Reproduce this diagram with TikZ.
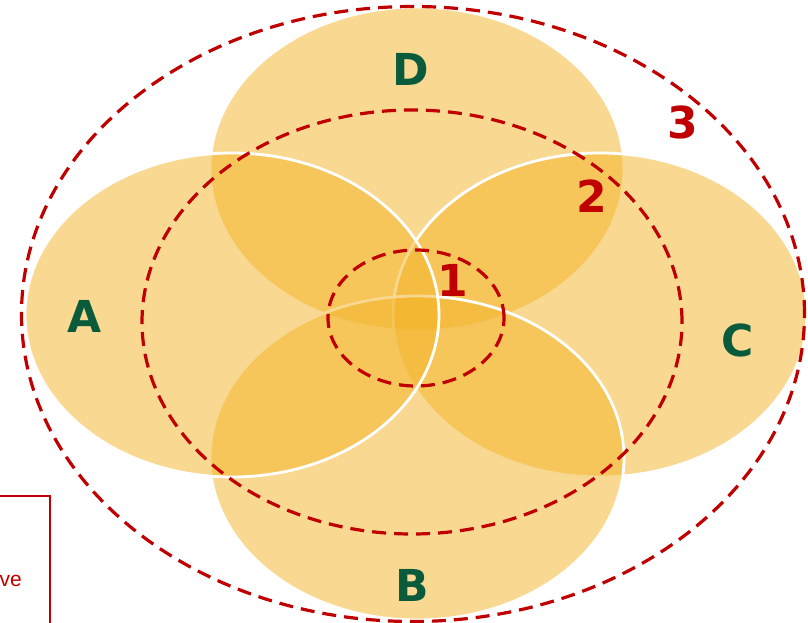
\documentclass[tikz,border=0pt]{standalone}
\usepackage{fontspec}
\setmainfont{Liberation Sans}
\newfontfamily\labelfont{DejaVu Sans}
\usetikzlibrary{shapes.geometric}

\definecolor{setfill}{RGB}{243,179,37}
\definecolor{setgreen}{RGB}{10,90,60}
\definecolor{zonered}{RGB}{192,0,0}

\begin{document}
\begin{tikzpicture}[
    x=1pt, y=-1pt,
    petal/.style={ellipse, draw=white, line width=2.8pt, fill=setfill, fill opacity=0.5, draw opacity=1, minimum width=414pt, minimum height=324pt, inner sep=0pt},
    ring/.style={ellipse, draw=zonered, line width=3.2pt, dash pattern=on 14pt off 8pt, inner sep=0pt},
    setlabel/.style={font=\labelfont\fontsize{44}{44}\selectfont\bfseries, text=setgreen},
    zonelabel/.style={font=\labelfont\fontsize{44}{44}\selectfont\bfseries, text=zonered}
]
\useasboundingbox (0,0) rectangle (808,623);
\clip (0,0) rectangle (808,623);

% Sets
\node[petal] (setD) at (417,169) {};
\node[petal] (setC) at (600,315) {};
\node[petal] (setB) at (417,458) {};
\node[petal] (setA) at (232,315) {};

% Zones
\node[ring, minimum width=783pt, minimum height=615pt] (zone3) at (413,314) {};
\node[ring, minimum width=540pt, minimum height=424pt] (zone2) at (412,322) {};
\node[ring, minimum width=176pt, minimum height=136pt] (zone1) at (416,318) {};

% Labels
\node[setlabel] (labA) at (85,316) {A};
\node[setlabel] (labB) at (412,585) {B};
\node[setlabel] (labC) at (738,340) {C};
\node[setlabel] (labD) at (411,69) {D};
\node[zonelabel] (lab1) at (453,280) {1};
\node[zonelabel] (lab2) at (592,196) {2};
\node[zonelabel] (lab3) at (683,122) {3};

% Legend (cut off)
\node[draw=zonered, line width=1.5pt, minimum width=150pt, minimum height=204pt, inner sep=0pt] (legend) at (-25,598) {};
\node[anchor=base east, text=zonered, font=\fontsize{21}{21}\selectfont, inner sep=0pt] (legtext) at (22,586) {ve};

\end{tikzpicture}
\end{document}
